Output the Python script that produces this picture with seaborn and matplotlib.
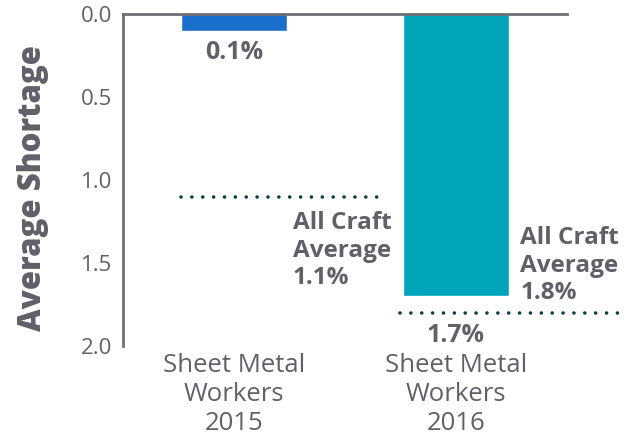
import matplotlib
matplotlib.use("Agg")
import matplotlib.pyplot as plt
import seaborn as sns
import pandas as pd

# Data
categories = ["Sheet Metal\nWorkers\n2015", "Sheet Metal\nWorkers\n2016"]
shortage = [0.1, 1.7]
bar_labels = ["0.1%", "1.7%"]
craft_avg = [1.1, 1.8]
craft_labels = ["All Craft\nAverage\n1.1%", "All Craft\nAverage\n1.8%"]
bar_colors = ["#1a6fcc", "#00a5bb"]

sns.set_style("white")
plt.rcParams["font.family"] = ["Open Sans", "DejaVu Sans"]

gray = "#606068"
spine_gray = "#6e6e76"
dot_color = "#0e3f40"

df = pd.DataFrame({"category": categories, "shortage": shortage})

fig = plt.figure(figsize=(6.34, 4.38), dpi=100)
ax = fig.add_axes([0.194, 0.21, 0.70, 0.758])

sns.barplot(data=df, x="category", y="shortage", hue="category",
            palette=bar_colors, width=0.48, legend=False, ax=ax,
            saturation=1)

ax.set_xlim(-0.5, 1.5)
ax.set_ylim(2.0, 0.0)
ax.set_yticks([0.0, 0.5, 1.0, 1.5, 2.0])
ax.set_yticklabels(["0.0", "0.5", "1.0", "1.5", "2.0"])

for side in ["right", "bottom"]:
    ax.spines[side].set_visible(False)
for side in ["left", "top"]:
    ax.spines[side].set_color(spine_gray)
    ax.spines[side].set_linewidth(2)

ax.tick_params(axis="y", direction="in", length=7, width=1.2, color=spine_gray,
               labelsize=16, labelcolor=gray, pad=8)
ax.tick_params(axis="x", length=0, labelsize=18.5, labelcolor=gray, pad=5)
for lab in ax.get_xticklabels():
    lab.set_linespacing(1.2)
ax.set_xlabel("")
ax.set_ylabel("Average Shortage", fontsize=22.5, fontweight="heavy",
              color=gray, labelpad=20)
ax.yaxis.set_label_coords(-0.167, 0.475)

# value labels under each bar
label_offsets = [0.232, 1.935]
for i, (lab, ypos) in enumerate(zip(bar_labels, label_offsets)):
    ax.text(i, ypos, lab, ha="center", va="center", fontsize=18,
            fontweight="bold", color=gray)

# all-craft average reference lines
line_spans = [(-0.24, 0.67), (0.75, 1.74)]
for (x0, x1), avg in zip(line_spans, craft_avg):
    ax.plot([x0, x1], [avg, avg], linestyle=(0, (0.01, 3.0)), linewidth=2.6,
            color=dot_color, dash_capstyle="round", clip_on=False)

text_pos = [(0.265, 1.425), (1.29, 1.515)]
for (tx, ty), lab in zip(text_pos, craft_labels):
    ax.text(tx, ty, lab, ha="left", va="center", fontsize=17.5,
            fontweight="bold", color=gray, linespacing=1.2)

fig.savefig("out.png", dpi=100)
